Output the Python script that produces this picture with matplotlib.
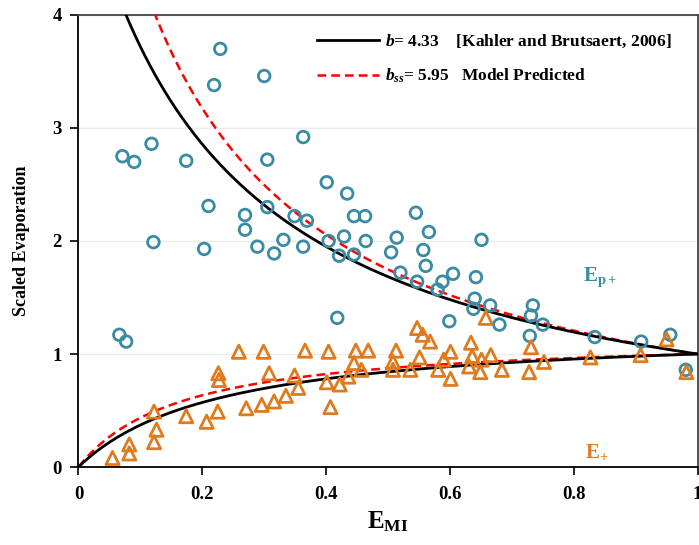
import numpy as np
import matplotlib
matplotlib.use("Agg")
import matplotlib.pyplot as plt

plt.rcParams['font.family'] = 'Liberation Serif'
plt.rcParams['mathtext.fontset'] = 'custom'
plt.rcParams['mathtext.rm'] = 'Liberation Serif:bold'
plt.rcParams['mathtext.it'] = 'Liberation Serif:italic:bold'
plt.rcParams['mathtext.bf'] = 'Liberation Serif:bold'

# scaled potential evaporation E_p+ (circles)
ep_x = [0.066, 0.077, 0.071, 0.090, 0.118, 0.121, 0.174, 0.203, 0.210, 0.219,
        0.229, 0.269, 0.269, 0.289, 0.300, 0.305, 0.305, 0.316, 0.331, 0.349,
        0.363, 0.363, 0.369, 0.401, 0.404, 0.418, 0.421, 0.429, 0.434, 0.445,
        0.445, 0.463, 0.464, 0.505, 0.514, 0.520, 0.545, 0.547, 0.557, 0.561,
        0.566, 0.580, 0.588, 0.599, 0.605, 0.638, 0.640, 0.642, 0.651, 0.665,
        0.680, 0.729, 0.731, 0.734, 0.750, 0.834, 0.909, 0.956, 0.981]
ep_y = [1.17, 1.11, 2.75, 2.70, 2.86, 1.99, 2.71, 1.93, 2.31, 3.38,
        3.70, 2.23, 2.10, 1.95, 3.46, 2.72, 2.30, 1.89, 2.01, 2.22,
        2.92, 1.95, 2.18, 2.52, 2.00, 1.32, 1.87, 2.04, 2.42, 2.22,
        1.88, 2.22, 2.00, 1.90, 2.03, 1.72, 2.25, 1.64, 1.92, 1.78,
        2.08, 1.57, 1.64, 1.29, 1.71, 1.40, 1.49, 1.68, 2.01, 1.43,
        1.26, 1.16, 1.34, 1.43, 1.26, 1.15, 1.11, 1.17, 0.86]

# scaled actual evaporation E_+ (triangles)
e_x = [0.055, 0.082, 0.082, 0.122, 0.126, 0.122, 0.174, 0.207, 0.225, 0.227,
       0.226, 0.259, 0.271, 0.296, 0.299, 0.308, 0.316, 0.335, 0.349, 0.355,
       0.366, 0.401, 0.404, 0.407, 0.422, 0.436, 0.445, 0.448, 0.457, 0.468,
       0.508, 0.508, 0.513, 0.536, 0.547, 0.551, 0.556, 0.568, 0.581, 0.590,
       0.601, 0.601, 0.631, 0.634, 0.636, 0.649, 0.651, 0.658, 0.666, 0.684,
       0.728, 0.731, 0.752, 0.827, 0.908, 0.950, 0.982]
e_y = [0.08, 0.12, 0.20, 0.22, 0.33, 0.49, 0.45, 0.40, 0.49, 0.77,
       0.83, 1.02, 0.52, 0.55, 1.02, 0.83, 0.58, 0.63, 0.81, 0.70,
       1.03, 0.75, 1.02, 0.53, 0.73, 0.80, 0.92, 1.03, 0.86, 1.03,
       0.86, 0.93, 1.03, 0.86, 1.23, 0.97, 1.17, 1.11, 0.86, 0.95,
       1.02, 0.78, 0.89, 1.10, 0.98, 0.84, 0.95, 1.32, 0.99, 0.86,
       0.84, 1.06, 0.93, 0.97, 0.99, 1.13, 0.84]

b_kb = 4.33
b_ss = 5.95

teal = '#3a8ba3'
orange = '#e07a1c'

fig = plt.figure(figsize=(6.99, 5.45), dpi=100)
ax = fig.add_axes([0.1123, 0.1431, 0.8856, 0.8294])

xx = np.linspace(0.0005, 1, 600)

def lower(x, b):
    return x * (1 + b) / (1 + b * x)

def upper(x, b):
    return (1 + b) / (1 + b * x)

ax.plot(xx, upper(xx, b_kb), color='black', lw=2, zorder=4,
        label=r'$b$= 4.33    [Kahler and Brutsaert, 2006]')
ax.plot(xx, lower(xx, b_kb), color='black', lw=2, zorder=4)
ax.plot(xx, upper(xx, b_ss), color='red', lw=1.8, ls=(0, (3.5, 2)), zorder=3,
        label=r'$b_{ss}$= 5.95   Model Predicted')
ax.plot(xx, lower(xx, b_ss), color='red', lw=1.8, ls=(0, (3.5, 2)), zorder=3)

ax.scatter(ep_x, ep_y, s=70, marker='o', facecolors='none', edgecolors=teal,
           linewidths=2, zorder=5, clip_on=False)
ax.scatter(e_x, e_y, s=90, marker='^', facecolors='none', edgecolors=orange,
           linewidths=2, zorder=5, clip_on=False)

ax.text(0.842, 1.68, r'$\mathbf{E_{p+}}$', color=teal, fontsize=15,
        ha='center', va='center')
ax.text(0.838, 0.13, r'$\mathbf{E_{+}}$', color=orange, fontsize=15,
        ha='center', va='center')

ax.set_xlim(0, 1)
ax.set_ylim(0, 4)
ax.set_xticks([0, 0.2, 0.4, 0.6, 0.8, 1])
ax.set_xticklabels(['0', '0.2', '0.4', '0.6', '0.8', '1'])
ax.set_yticks([0, 1, 2, 3, 4])
ax.yaxis.grid(True, color='#ececec', lw=1)
ax.set_axisbelow(True)
ax.tick_params(direction='out', length=6, width=1.2, labelsize=13.5)
for lab in ax.get_xticklabels() + ax.get_yticklabels():
    lab.set_fontweight('bold')
ax.tick_params(axis='x', pad=8)
ax.tick_params(axis='y', pad=6)

for side in ['left', 'bottom']:
    ax.spines[side].set_linewidth(1.3)
for side in ['top', 'right']:
    ax.spines[side].set_color('#444444')
    ax.spines[side].set_linewidth(1.3)

ax.set_xlabel(r'$\mathbf{E_{MI}}$', fontsize=18, labelpad=4)
ax.set_ylabel('Scaled Evaporation', fontsize=13, fontweight='bold', labelpad=16)

leg = ax.legend(loc='upper left', bbox_to_anchor=(0.36, 0.995), frameon=False,
                fontsize=12.5, handlelength=3.6, handletextpad=0.3,
                labelspacing=0.95)
for t in leg.get_texts():
    t.set_fontweight('bold')

fig.savefig('out.png', dpi=100)
